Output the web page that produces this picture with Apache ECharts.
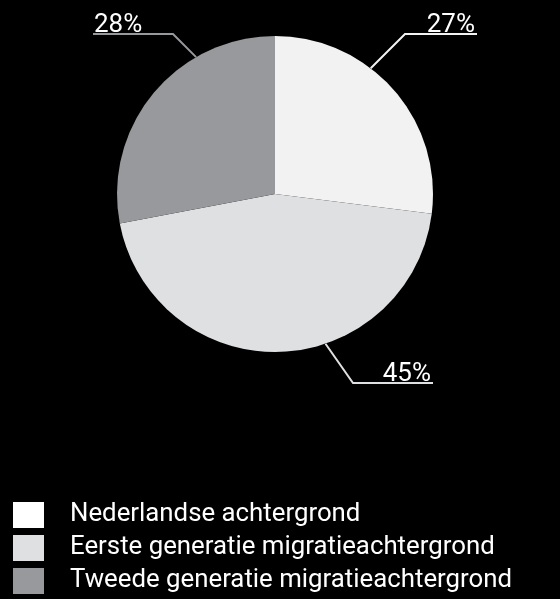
<!DOCTYPE html>
<html>
<head>
<meta charset="utf-8">
<script src="https://cdn.jsdelivr.net/npm/echarts@6/dist/echarts.min.js"></script>
<style>
  html, body { margin: 0; padding: 0; background: #000; }
  #chart { width: 560px; height: 599px; }
</style>
</head>
<body>
<div id="chart"></div>
<script>
// Share of respondents by background (percent)
const categories = [
  'Nederlandse achtergrond',
  'Eerste generatie migratieachtergrond',
  'Tweede generatie migratieachtergrond'
];
const shares = [27, 45, 28];

// Styling
const sliceColors = ['#f2f2f2', '#dfe0e2', '#98999c'];
const legendColors = ['#ffffff', '#dfe0e2', '#98999c'];
const FONT = 'Roboto, "Noto Sans", sans-serif';

const PIE_CENTER = [275, 194];
const PIE_RADIUS = 158;

// Label callouts: elbow point, end of the underline, and the slant of the leader toward the pie
const callouts = [
  { bend: [405, 34], end: 477, dir: [-1, 1] },
  { bend: [353, 383], end: 433, dir: [-28, -40] },
  { bend: [173, 34], end: 93, dir: [1, 1] }
];

// Point where a leader leaving the elbow meets the pie's rim
function rimPoint(bend, dir) {
  const len = Math.hypot(dir[0], dir[1]);
  const d = [dir[0] / len, dir[1] / len];
  const rel = [bend[0] - PIE_CENTER[0], bend[1] - PIE_CENTER[1]];
  const b = d[0] * rel[0] + d[1] * rel[1];
  const c = rel[0] * rel[0] + rel[1] * rel[1] - PIE_RADIUS * PIE_RADIUS;
  const t = -b - Math.sqrt(Math.max(b * b - c, 0));
  return [bend[0] + t * d[0], bend[1] + t * d[1]];
}

const chart = echarts.init(document.getElementById('chart'), null, { renderer: 'canvas' });

chart.setOption({
  backgroundColor: '#000',
  animation: false,
  legend: {
    orient: 'vertical',
    left: 13,
    top: 502,
    padding: 0,
    itemWidth: 31,
    itemHeight: 26,
    itemGap: 7,
    icon: 'rect',
    data: categories.map((name, i) => ({ name, itemStyle: { color: legendColors[i] } })),
    textStyle: {
      color: '#fff',
      fontSize: 25.8,
      fontFamily: FONT,
      padding: [18, 0, 0, 21]
    }
  },
  series: [{
    type: 'pie',
    center: PIE_CENTER,
    radius: PIE_RADIUS,
    startAngle: 90,
    clockwise: true,
    avoidLabelOverlap: false,
    data: categories.map((name, i) => ({
      name,
      value: shares[i],
      itemStyle: { color: sliceColors[i] },
      labelLine: { lineStyle: { color: sliceColors[i] } }
    })),
    label: {
      show: true,
      position: 'outside',
      formatter: '{c}%',
      color: '#fff',
      fontSize: 26,
      fontFamily: FONT
    },
    labelLine: {
      show: true,
      length: 20,
      length2: 40,
      lineStyle: { width: 2 }
    },
    emphasis: { disabled: true },
    labelLayout: function (params) {
      const co = callouts[params.dataIndex];
      const isRight = co.end > co.bend[0];
      const start = rimPoint(co.bend, co.dir);
      return {
        x: co.end + (isRight ? -2 : 1),
        y: co.bend[1] + 4,
        align: isRight ? 'right' : 'left',
        verticalAlign: 'bottom',
        labelLinePoints: [start, co.bend.slice(), [co.end, co.bend[1]]]
      };
    }
  }]
});
</script>
</body>
</html>
